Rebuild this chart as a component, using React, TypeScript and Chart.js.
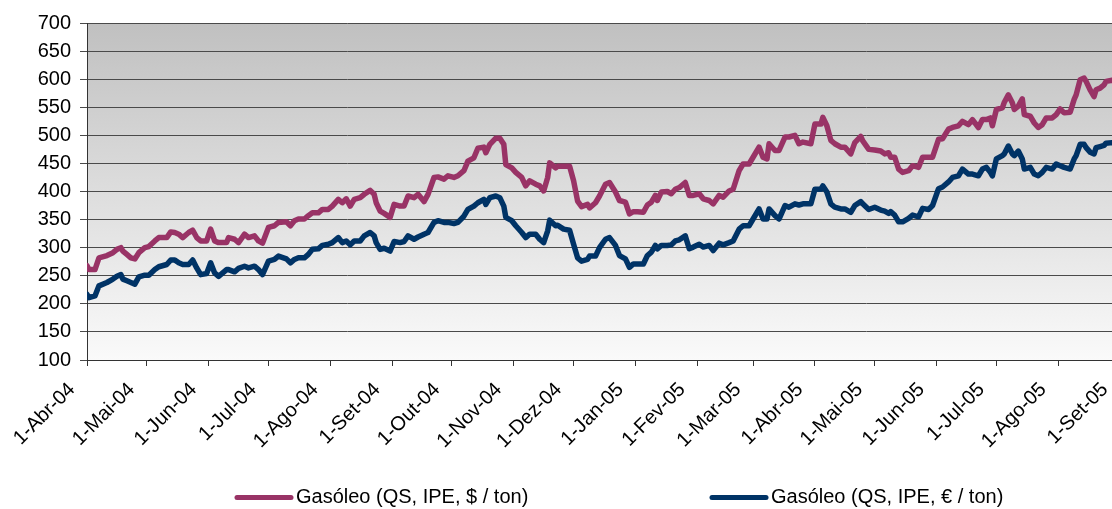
import React, { useEffect, useRef } from "react";
import { Chart, registerables } from "chart.js";

Chart.register(...registerables);

// Day offsets counted from 1-Abr-04
const days = [
  0, 1, 4, 6, 10, 13, 15, 17, 18, 20, 22, 24, 26, 29, 31, 34, 36, 40, 42, 44, 46, 48, 51, 53, 55, 57, 60, 62, 64, 66,
  70, 71, 74, 76, 79, 81, 84, 86, 88, 91, 94, 96, 100, 102, 104, 106, 109, 111, 113, 116, 118, 121, 123, 126, 128, 130,
  132, 134, 137, 139, 142, 144, 145, 147, 149, 152, 154, 157, 159, 161, 164, 166, 169, 171, 174, 176, 179, 181, 184, 186,
  189, 191, 194, 196, 199, 200, 202, 205, 207, 209, 210, 213, 215, 218, 220, 222, 225, 227, 229, 231, 232, 235, 236, 239,
  242, 244, 246, 248, 251, 252, 255, 257,
  260, 262, 265, 267, 270, 272, 274, 276, 279, 281, 283, 285, 286, 288, 291, 293, 295, 297, 300, 302, 304, 307, 309, 312,
  314, 317, 319, 322, 324, 327, 329, 332, 334, 337, 339, 341, 342, 345, 347, 350, 352, 355, 357, 359, 363, 365, 368, 369,
  371, 373, 375, 378, 380, 383,
  385, 388, 389, 392, 395, 398, 400, 402, 403, 405, 407, 409, 412, 414, 417, 419, 422, 424, 427, 429, 432, 434, 437, 439,
  442, 444, 447, 449, 451, 453, 454, 456, 459, 460, 462, 464, 465, 467, 469, 470, 473, 475, 477, 479, 481, 484, 486, 488,
  490, 493, 495, 496, 498, 500, 501, 503, 505, 506, 508, 510, 511, 514, 518, 521,
];

const usdPerTon = [
  268, 261, 261, 282, 286, 291, 297, 300, 294, 288, 282, 280, 291, 300, 302, 312, 318, 318, 328, 327, 324, 318, 327, 331, 318, 312, 312, 333, 312, 309,
  309, 318, 315, 309, 324, 318, 321, 312, 308, 336, 339, 345, 346, 339, 348, 351, 351, 357, 362, 362, 368, 368, 374, 386, 380, 387,
  374, 386, 389, 395, 402, 395, 380, 365, 361, 354, 377, 374, 374, 392, 389, 395, 382, 395, 425, 426, 422, 428, 425, 428,
  437, 454, 460, 477, 479, 469, 484, 495, 495, 484, 448, 442, 434, 425, 410, 419, 413, 410, 401, 425, 451, 442, 445, 445,
  445, 419, 383, 373, 377, 371, 380, 392,
  413, 416, 399, 384, 381, 360, 364, 364, 363, 376, 381, 393, 384, 399, 400, 396, 404, 407, 416, 393, 393, 396, 387, 384,
  378, 393, 390, 401, 404, 437, 449, 449, 461, 479, 461, 458, 485, 473, 473, 497, 497, 500, 485, 488, 485, 520, 520, 532,
  517, 491, 485, 479, 479, 467,
  487, 498, 490, 475, 474, 472, 467, 469, 461, 461, 440, 434, 437, 446, 443, 461, 461, 461, 493, 494, 511, 514, 517, 525,
  519, 528, 514, 528, 528, 531, 517, 546, 549, 559, 572, 558, 546, 552, 565, 537, 534, 522, 514, 519, 531, 531, 537, 547,
  540, 541, 564, 572, 599, 602, 596, 581, 569, 581, 584, 590, 596, 598, 597, 599,
];

const eurPerTon = [
  217, 211, 214, 232, 238, 244, 249, 252, 244, 241, 238, 235, 248, 251, 251, 261, 266, 270, 278, 278, 273, 270, 270, 278, 264, 252, 254, 273, 255, 249,
  261, 261, 257, 263, 267, 264, 267, 261, 252, 276, 279, 285, 280, 273, 279, 282, 282, 288, 297, 298, 304, 306, 309, 318, 309, 312,
  305, 312, 312, 321, 327, 321, 309, 297, 299, 294, 311, 309, 311, 321, 315, 319, 324, 327, 345, 348, 345, 345, 343, 345,
  356, 368, 374, 380, 386, 377, 389, 392, 389, 374, 354, 348, 339, 327, 318, 324, 324, 315, 309, 330, 349, 339, 340, 333,
  331, 306, 282, 276, 279, 285, 285, 300,
  315, 318, 304, 286, 280, 265, 271, 271, 271, 286, 292, 304, 298, 304, 304, 305, 312, 314, 321, 298, 301, 306, 301, 304,
  295, 308, 305, 309, 312, 333, 339, 339, 351, 369, 351, 351, 369, 357, 351, 375, 372, 378, 376, 378, 378, 404, 404, 410,
  399, 378, 372, 369, 369, 363,
  375, 382, 378, 368, 372, 367, 365, 361, 364, 358, 346, 346, 352, 358, 355, 370, 368, 375, 405, 408, 417, 425, 428, 440,
  431, 431, 428, 440, 443, 434, 428, 458, 464, 467, 481, 467, 464, 472, 458, 440, 443, 431, 428, 434, 443, 440, 449, 446,
  443, 440, 458, 464, 484, 484, 478, 470, 467, 478, 480, 482, 486, 487, 488, 489,
];

const tickLabels = [
  "1-Abr-04", "1-Mai-04", "1-Jun-04", "1-Jul-04", "1-Ago-04", "1-Set-04", "1-Out-04", "1-Nov-04", "1-Dez-04",
  "1-Jan-05", "1-Fev-05", "1-Mar-05", "1-Abr-05", "1-Mai-05", "1-Jun-05", "1-Jul-05", "1-Ago-05", "1-Set-05",
];

const seriesNames = ["Gasóleo (QS, IPE, $ / ton)", "Gasóleo (QS, IPE, € / ton)"];
const seriesColors = ["#993366", "#003366"];

const yTicks = [100, 150, 200, 250, 300, 350, 400, 450, 500, 550, 600, 650, 700];

const DAY_MS = 86400000;
const startUTC = Date.UTC(2004, 3, 1);
const tickDays = tickLabels.map((_, i) => Math.round((Date.UTC(2004, 3 + i, 1) - startUTC) / DAY_MS));

const FONT = "'Liberation Sans', Arial, sans-serif";

const backgroundPlugin = {
  id: "plotBackground",
  beforeDraw(chart: any) {
    const { ctx, chartArea } = chart;
    const g = ctx.createLinearGradient(0, chartArea.top, 0, chartArea.bottom);
    g.addColorStop(0, "#c0c0c0");
    g.addColorStop(1, "#fafafa");
    ctx.save();
    ctx.fillStyle = g;
    ctx.fillRect(chartArea.left, chartArea.top, chartArea.right - chartArea.left, chartArea.bottom - chartArea.top);
    ctx.restore();
  },
};

const legendPlugin = {
  id: "customLegend",
  afterDraw(chart: any) {
    const { ctx } = chart;
    const items = [
      { x: 236, name: seriesNames[0], color: seriesColors[0] },
      { x: 711, name: seriesNames[1], color: seriesColors[1] },
    ];
    const y = 497.5;
    ctx.save();
    items.forEach((it) => {
      ctx.strokeStyle = it.color;
      ctx.lineWidth = 5;
      ctx.lineCap = "round";
      ctx.beginPath();
      ctx.moveTo(it.x + 1, y);
      ctx.lineTo(it.x + 55, y);
      ctx.stroke();
      ctx.fillStyle = "#000";
      ctx.font = `20px ${FONT}`;
      ctx.textBaseline = "middle";
      ctx.textAlign = "left";
      ctx.fillText(it.name, it.x + 60, y);
    });
    ctx.restore();
  },
};

export default function App() {
  const canvasRef = useRef<HTMLCanvasElement | null>(null);

  useEffect(() => {
    const canvas = canvasRef.current;
    if (!canvas) return;
    const chart = new Chart(canvas, {
      type: "line",
      data: {
        datasets: [usdPerTon, eurPerTon].map((vals, k) => ({
          label: seriesNames[k],
          data: days.map((d, i) => ({ x: d, y: vals[i] })),
          borderColor: seriesColors[k],
          backgroundColor: seriesColors[k],
          borderWidth: 5.5,
          pointRadius: 0,
          tension: 0,
          borderJoinStyle: "round" as const,
          borderCapStyle: "round" as const,
          fill: false,
        })),
      },
      options: {
        animation: false,
        responsive: false,
        devicePixelRatio: 1,
        layout: { padding: { top: 23, right: 6, bottom: 0, left: 0 } },
        plugins: {
          legend: { display: false },
          tooltip: { enabled: false },
        },
        scales: {
          x: {
            type: "linear",
            min: 0,
            max: 521,
            afterBuildTicks: (scale: any) => {
              scale.ticks = tickDays.map((v) => ({ value: v }));
            },
            afterFit: (scale: any) => {
              scale.height = 149;
              scale.paddingLeft = 0;
              scale.paddingRight = 0;
            },
            ticks: {
              autoSkip: false,
              minRotation: 45,
              maxRotation: 45,
              padding: 12,
              labelOffset: -15,
              color: "#000",
              font: { family: FONT, size: 20 },
              callback: (_v: any, i: number) => tickLabels[i],
            },
            grid: {
              display: true,
              drawOnChartArea: false,
              drawTicks: true,
              tickLength: 6,
              color: "#333",
              lineWidth: 1,
            },
            border: { display: true, color: "#333", width: 1 },
          },
          y: {
            min: 100,
            max: 700,
            afterBuildTicks: (scale: any) => {
              scale.ticks = yTicks.map((v) => ({ value: v }));
            },
            afterFit: (scale: any) => {
              scale.width = 87;
            },
            ticks: {
              padding: 9,
              color: "#000",
              font: { family: FONT, size: 20 },
              callback: (v: any) => String(v),
            },
            grid: {
              color: "#4a4a4a",
              lineWidth: 1,
              drawTicks: true,
              tickLength: 7,
            },
            border: { display: true, color: "#333", width: 1 },
          },
        },
      },
      plugins: [backgroundPlugin, legendPlugin],
    });
    return () => chart.destroy();
  }, []);

  return (
    <div style={{ position: "absolute", left: 0, top: 0, width: 1112, height: 509, overflow: "hidden", background: "#fff" }}>
      <canvas ref={canvasRef} width={1132} height={509} style={{ display: "block", width: 1132, height: 509 }} />
    </div>
  );
}
